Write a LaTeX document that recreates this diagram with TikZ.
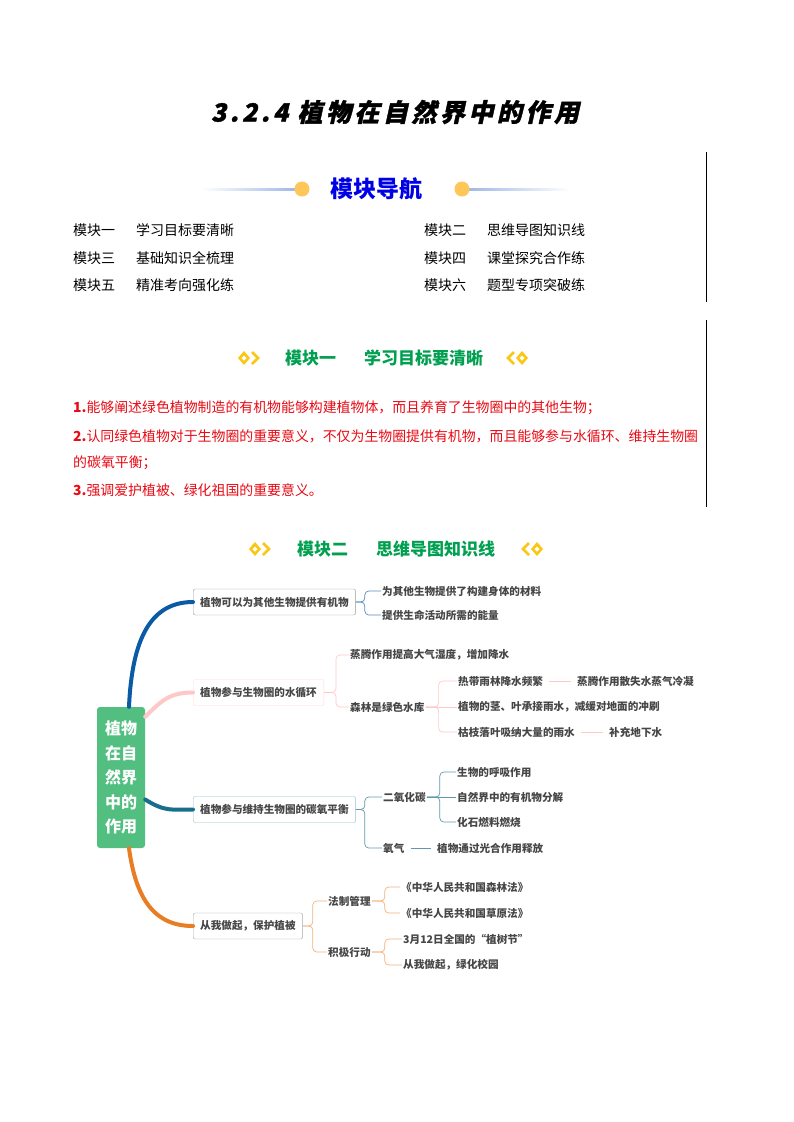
\documentclass[tikz,border=0pt]{standalone}
\usepackage{fontspec}
\setmainfont{Noto Sans CJK SC}
\newfontfamily\titlefont[FakeSlant=0.22,LetterSpace=14,FakeBold=1.5]{Noto Sans CJK SC}
\usetikzlibrary{positioning}
\definecolor{navblue}{RGB}{0,0,230}
\definecolor{navline}{RGB}{160,185,230}
\definecolor{dotorange}{RGB}{255,198,90}
\definecolor{modgreen}{RGB}{0,160,80}
\definecolor{icongold}{RGB}{250,200,20}
\definecolor{goalred}{RGB}{232,10,20}
\definecolor{mapgray}{RGB}{70,70,70}
\definecolor{rootgreen}{RGB}{82,190,128}
\definecolor{brblue}{RGB}{10,90,165}
\definecolor{brpink}{RGB}{255,200,200}
\definecolor{brteal}{RGB}{25,110,140}
\definecolor{brorange}{RGB}{232,125,35}
\tikzset{
  navtext/.style={anchor=west, inner sep=0pt, font=\fontsize{14}{14}\selectfont},
  goaltext/.style={anchor=west, inner sep=0pt, text=goalred, font=\fontsize{13.9}{13.9}\selectfont},
  modhead/.style={anchor=west, inner sep=0pt, text=modgreen, font=\bfseries\fontsize{17}{17}\selectfont},
  topicbox/.style={
    rectangle, rounded corners=2pt, draw=#1, fill=white, anchor=west,
    text=mapgray, font=\bfseries\fontsize{10.6}{10.6}\selectfont,
    inner xsep=7pt, minimum height=26pt
  },
  leaf/.style={anchor=west, inner sep=1pt, text=mapgray, font=\bfseries\fontsize{10.6}{10.6}\selectfont},
  branch/.style={line width=4pt, line cap=round, draw=#1},
  fork/.style={rounded corners=4pt, line width=0.7pt, draw=#1},
  link/.style={line width=0.7pt, draw=#1, shorten <=5pt, shorten >=5pt},
  pics/icon left/.style={code={
    \fill[icongold] (-11,0) -- (-5,-7) -- (1,0) -- (-5,7) -- cycle;
    \fill[white] (-7.5,0) -- (-5,-2.5) -- (-2.5,0) -- (-5,2.5) -- cycle;
    \draw[icongold, line width=2.6pt] (3,-6) -- (9,0) -- (3,6);
  }},
  pics/icon right/.style={code={
    \fill[icongold] (11,0) -- (5,-7) -- (-1,0) -- (5,7) -- cycle;
    \fill[white] (7.5,0) -- (5,-2.5) -- (2.5,0) -- (5,2.5) -- cycle;
    \draw[icongold, line width=2.6pt] (-3,-6) -- (-9,0) -- (-3,6);
  }}
}

\begin{document}
\begin{tikzpicture}[x=1pt, y=-1pt]
  \useasboundingbox[fill=white] (0,0) rectangle (793,1122);

  % title
  \node[font=\titlefont\bfseries\fontsize{25}{25}\selectfont] (title) at (395,112) {3.2.4 植物在自然界中的作用};

  % side rules
  \draw[line width=1pt] (706,152) -- (706,302);
  \draw[line width=1pt] (706,320) -- (706,507);

  % navigation
  \shade[left color=white, right color=navline] (200,188) rectangle (295,190);
  \shade[left color=navline, right color=white] (469,188) rectangle (570,190);
  \fill[dotorange] (302,189) circle (7.5);
  \fill[dotorange] (462,189) circle (7.5);
  \node[text=navblue, font=\bfseries\fontsize{23}{23}\selectfont] (navtitle) at (376,189) {模块导航};

  \node[navtext] (nav1) at (73,230) {模块一};
  \node[navtext] (nav1t) at (136,230) {学习目标要清晰};
  \node[navtext] (nav2) at (424,230) {模块二};
  \node[navtext] (nav2t) at (487,230) {思维导图知识线};
  \node[navtext] (nav3) at (73,258) {模块三};
  \node[navtext] (nav3t) at (136,258) {基础知识全梳理};
  \node[navtext] (nav4) at (424,258) {模块四};
  \node[navtext] (nav4t) at (487,258) {课堂探究合作练};
  \node[navtext] (nav5) at (73,285) {模块五};
  \node[navtext] (nav5t) at (136,285) {精准考向强化练};
  \node[navtext] (nav6) at (424,285) {模块六};
  \node[navtext] (nav6t) at (487,285) {题型专项突破练};

  % module one
  \pic at (249,358) {icon left};
  \node[modhead] (mod1) at (285,358) {模块一};
  \node[modhead] (mod1t) at (364,358) {学习目标要清晰};
  \pic at (517,358) {icon right};

  \node[goaltext] (goal1) at (73,408) {{\bfseries 1.}能够阐述绿色植物制造的有机物能够构建植物体，而且养育了生物圈中的其他生物；};
  \node[goaltext] (goal2) at (73,436) {{\bfseries 2.}认同绿色植物对于生物圈的重要意义，不仅为生物圈提供有机物，而且能够参与水循环、维持生物圈};
  \node[goaltext] (goal2b) at (73,463) {的碳氧平衡；};
  \node[goaltext] (goal3) at (73,490) {{\bfseries 3.}强调爱护植被、绿化祖国的重要意义。};

  % module two
  \pic at (260,549) {icon left};
  \node[modhead] (mod2) at (297,549) {模块二};
  \node[modhead] (mod2t) at (376,549) {思维导图知识线};
  \pic at (532,549) {icon right};

  % mind map
  \node[rectangle, rounded corners=3pt, fill=rootgreen, text=white, align=center,
        minimum width=48pt, minimum height=141pt, inner sep=0pt,
        font=\bfseries\fontsize{16}{24.5}\selectfont] (root) at (121,777.5)
        {植物\\在自\\然界\\中的\\作用};

  \node[topicbox=gray!80] (organic) at (193,602) {植物可以为其他生物提供有机物};
  \node[topicbox=brpink!70] (water) at (193,692.5) {植物参与生物圈的水循环};
  \node[topicbox=brteal!45] (carbon) at (193,809.5) {植物参与维持生物圈的碳氧平衡};
  \node[topicbox=gray!70] (protect) at (193,926) {从我做起，保护植被};

  \draw[branch=brblue] ([xshift=8pt]root.north) .. controls (132,640) and (150,602) .. (organic.west);
  \draw[branch=brpink] ([yshift=-10pt]root.north east) .. controls (162,700) and (170,692.5) .. (water.west);
  \draw[branch=brteal] ([yshift=-22pt]root.east) .. controls (165,812) and (172,809.5) .. (carbon.west);
  \draw[branch=brorange] ([xshift=8pt]root.south) .. controls (136,900) and (155,926) .. (protect.west);

  % organic matter
  \node[leaf] (material) at (381,591) {为其他生物提供了构建身体的材料};
  \node[leaf] (energy) at (381,615) {提供生命活动所需的能量};
  \draw[fork=brblue!70] (organic.east) -- ++(9,0) |- (material.west);
  \draw[fork=brblue!70] (organic.east) -- ++(9,0) |- (energy.west);

  % water cycle
  \node[leaf] (transp) at (349,655) {蒸腾作用提高大气湿度，增加降水};
  \node[leaf] (forest) at (349,707) {森林是绿色水库};
  \draw[fork=brpink] (water.east) -- ++(12,0) |- (transp.west);
  \draw[fork=brpink] (water.east) -- ++(12,0) |- (forest.west);
  \node[leaf] (rainforest) at (457,681) {热带雨林降水频繁};
  \node[leaf] (stems) at (457,707) {植物的茎、叶承接雨水，减缓对地面的冲刷};
  \node[leaf] (litter) at (457,732) {枯枝落叶吸纳大量的雨水};
  \draw[fork=brpink] (forest.east) -- ++(13,0) |- (rainforest.west);
  \draw[fork=brpink] (forest.east) -- (stems.west);
  \draw[fork=brpink] (forest.east) -- ++(13,0) |- (litter.west);
  \node[leaf] (vapour) at (576,681) {蒸腾作用散失水蒸气冷凝};
  \node[leaf] (ground) at (608,732) {补充地下水};
  \draw[link=brpink] (rainforest.east) -- (vapour.west);
  \draw[link=brpink] (litter.east) -- (ground.west);

  % carbon-oxygen balance
  \node[leaf] (co2) at (382,797) {二氧化碳};
  \node[leaf] (oxygen) at (382,848) {氧气};
  \draw[fork=brteal!70] (carbon.east) -- ++(9,0) |- (co2.west);
  \draw[fork=brteal!70] (carbon.east) -- ++(9,0) |- (oxygen.west);
  \node[leaf] (respire) at (456,772) {生物的呼吸作用};
  \node[leaf] (decomp) at (456,797) {自然界中的有机物分解};
  \node[leaf] (fossil) at (456,822) {化石燃料燃烧};
  \draw[fork=brteal!70] (co2.east) -- ++(13,0) |- (respire.west);
  \draw[fork=brteal!70] (co2.east) -- (decomp.west);
  \draw[fork=brteal!70] (co2.east) -- ++(13,0) |- (fossil.west);
  \node[leaf] (photo) at (436,848) {植物通过光合作用释放};
  \draw[link=brteal!70] (oxygen.east) -- (photo.west);

  % protection
  \node[leaf] (law) at (327,901) {法制管理};
  \node[leaf] (action) at (327,952) {积极行动};
  \draw[fork=brorange!60] (protect.east) -- ++(10,0) |- (law.west);
  \draw[fork=brorange!60] (protect.east) -- ++(10,0) |- (action.west);
  \node[leaf] (forestlaw) at (400,887) {《中华人民共和国森林法》};
  \node[leaf] (grasslaw) at (400,913) {《中华人民共和国草原法》};
  \draw[fork=brorange!60] (law.east) -- ++(13,0) |- (forestlaw.west);
  \draw[fork=brorange!60] (law.east) -- ++(13,0) |- (grasslaw.west);
  \node[leaf] (arborday) at (402,939) {3月12日全国的“植树节”};
  \node[leaf] (campus) at (402,965) {从我做起，绿化校园};
  \draw[fork=brorange!60] (action.east) -- ++(13,0) |- (arborday.west);
  \draw[fork=brorange!60] (action.east) -- ++(13,0) |- (campus.west);
\end{tikzpicture}
\end{document}
